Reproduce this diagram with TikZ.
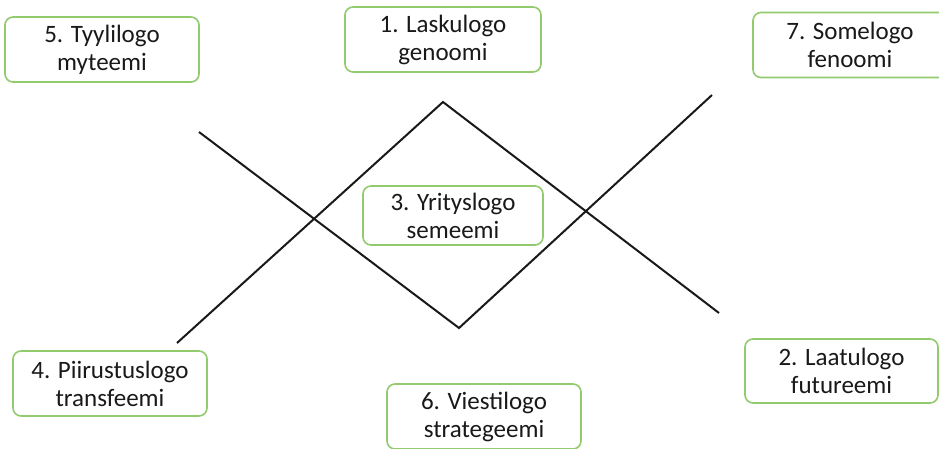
\documentclass[tikz,border=0pt]{standalone}
\usepackage{fontspec}
\setmainfont{Carlito}
\definecolor{boxgreen}{RGB}{146,202,110}
\definecolor{txt}{RGB}{25,25,25}
\tikzset{
  lbox/.style={draw=boxgreen, line width=1.6pt, rounded corners=8pt, fill=white,
    minimum width=194pt, minimum height=65pt, align=center, inner sep=0pt,
    text=txt, font=\fontsize{25}{28}\selectfont},
  chev/.style={draw=black!90, line width=2pt, line join=miter}
}
\begin{document}
\begin{tikzpicture}[x=1pt,y=-1pt]
\useasboundingbox (0,0) rectangle (939,448);
% chevrons
\coordinate (a1) at (199,132);
\coordinate (a2) at (459,328);
\coordinate (a3) at (712,95);
\coordinate (b1) at (177,343);
\coordinate (b2) at (443,102);
\coordinate (b3) at (719,313);
\draw[chev] (a1) -- (a2) -- (a3);
\draw[chev] (b1) -- (b2) -- (b3);
% boxes
\node[lbox] (n5) at (102,49.5) {5. Tyylilogo\\myteemi};
\node[lbox, minimum width=196pt] (n1) at (443,39.5) {1. Laskulogo\\genoomi};
\node[lbox] (n7) at (850,45) {7. Somelogo\\fenoomi};
\node[lbox] (n4) at (110,383.5) {4. Piirustuslogo\\transfeemi};
\node[lbox] (n6) at (484,416.5) {6. Viestilogo\\strategeemi};
\node[lbox, minimum width=193pt, minimum height=64pt] (n2) at (841.5,371) {2. Laatulogo\\futureemi};
\node[lbox, minimum width=180pt, minimum height=59pt] (n3) at (453,215.5) {3. Yrityslogo\\semeemi};
\end{tikzpicture}
\end{document}
